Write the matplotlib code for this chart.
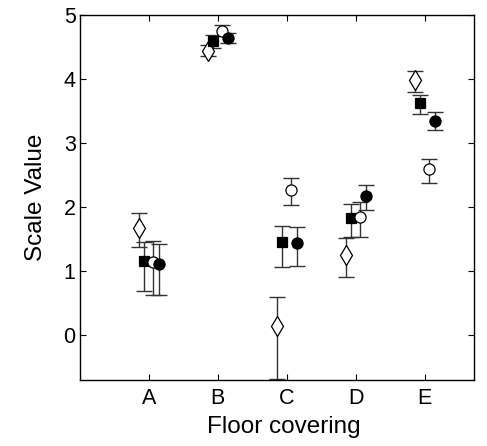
import matplotlib
matplotlib.use("Agg")
import matplotlib.pyplot as plt
import numpy as np

plt.rcParams['font.family'] = ['Liberation Sans', 'DejaVu Sans']

categories = ["A", "B", "C", "D", "E"]

# Mean scale values per floor covering, with lower/upper error extents
diamond_mean = [1.68, 4.44, 0.15, 1.26, 3.98]
diamond_lo = [1.38, 4.36, -0.69, 0.91, 3.80]
diamond_hi = [1.91, 4.53, 0.59, 1.52, 4.12]

square_mean = [1.16, 4.59, 1.45, 1.83, 3.62]
square_lo = [0.69, 4.49, 1.06, 1.54, 3.46]
square_hi = [1.46, 4.69, 1.71, 2.05, 3.76]

ocircle_mean = [1.15, 4.76, 2.27, 1.84, 2.59]
ocircle_lo = [0.63, 4.67, 2.04, 1.54, 2.38]
ocircle_hi = [1.47, 4.85, 2.46, 2.08, 2.75]

fcircle_mean = [1.12, 4.64, 1.44, 2.18, 3.35]
fcircle_lo = [0.63, 4.57, 1.08, 1.96, 3.20]
fcircle_hi = [1.43, 4.72, 1.69, 2.35, 3.48]

fig = plt.figure(figsize=(4.87, 4.46), dpi=100)
ax = fig.add_axes([0.164, 0.148, 0.809, 0.818])

x = np.arange(1, len(categories) + 1)

series = [
    (diamond_mean, diamond_lo, diamond_hi, -0.14, dict(marker='d', mfc='white', mec='black', ms=10)),
    (square_mean, square_lo, square_hi, -0.065, dict(marker='s', mfc='black', mec='black', ms=7)),
    (ocircle_mean, ocircle_lo, ocircle_hi, 0.065, dict(marker='o', mfc='white', mec='black', ms=8)),
    (fcircle_mean, fcircle_lo, fcircle_hi, 0.14, dict(marker='o', mfc='black', mec='black', ms=8)),
]

for mean, lo, hi, dx, style in series:
    mean = np.array(mean)
    yerr = np.vstack([mean - np.array(lo), np.array(hi) - mean])
    ax.errorbar(x + dx, mean, yerr=yerr, fmt='none', ecolor='#333333',
                elinewidth=1.0, capsize=6, capthick=1.0, zorder=2)
    ax.plot(x + dx, mean, linestyle='none', mew=0.9, zorder=3, **style)

ax.set_xlim(0, 5.71)
ax.set_ylim(-0.7, 5)
ax.set_xticks(x)
ax.set_xticklabels(categories)
ax.set_yticks([0, 1, 2, 3, 4, 5])
ax.tick_params(direction='in', length=4, width=0.8, top=True, right=True,
               labelsize=15.5)
ax.tick_params(axis='x', pad=6)
ax.tick_params(axis='y', pad=3)
for s in ax.spines.values():
    s.set_linewidth(1.0)

ax.set_xlabel("Floor covering", fontsize=17.5, labelpad=5)
ax.set_ylabel("Scale Value", fontsize=17.5, labelpad=12)
ax.xaxis.label.set_x(0.518)

fig.savefig("out.png", dpi=100)
